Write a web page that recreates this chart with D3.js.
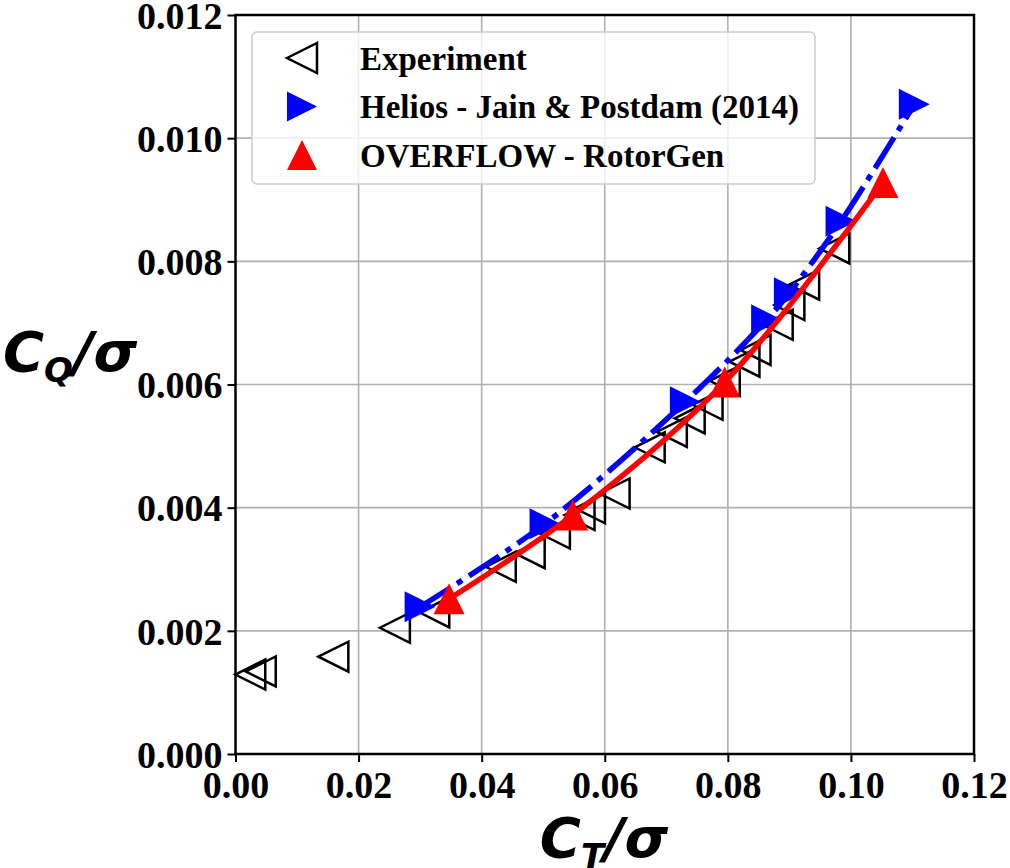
<!DOCTYPE html>
<html>
<head>
<meta charset="utf-8">
<script src="https://cdn.jsdelivr.net/npm/d3@7"></script>
<style>
  body { margin: 0; background: #fff; }
  svg { display: block; }
</style>
</head>
<body>
<svg width="1010" height="868"></svg>
<script>
// values
const expCT = [0.0024, 0.0041, 0.0159, 0.0259, 0.0323, 0.0431, 0.0478, 0.0519, 0.0559, 0.0576,
  0.0616, 0.0673, 0.0709, 0.0738, 0.0767, 0.0795, 0.0827, 0.0845, 0.0881, 0.0900, 0.0924, 0.0973]
const expCQ = [0.00129, 0.00134, 0.00158, 0.00205, 0.00230, 0.00304, 0.00326, 0.00358, 0.00388, 0.00399,
  0.00423, 0.00498, 0.00523, 0.00545, 0.00567, 0.00606, 0.00637, 0.00656, 0.00697, 0.00729, 0.00762, 0.00821]

const heliosCT = [0.0300, 0.0503, 0.0731, 0.0863, 0.0900, 0.0984, 0.1103]
const heliosCQ = [0.00239, 0.00374, 0.00572, 0.00705, 0.00749, 0.00865, 0.01055]

const overflowCT = [0.0347, 0.0548, 0.0795, 0.1052]
const overflowCQ = [0.00252, 0.00388, 0.00604, 0.00928]

const xTicks = [0, 0.02, 0.04, 0.06, 0.08, 0.10, 0.12]
const yTicks = [0, 0.002, 0.004, 0.006, 0.008, 0.010, 0.012]

const legendLabels = ['Experiment', 'Helios - Jain & Postdam (2014)', 'OVERFLOW - RotorGen']

const margin = {top: 15, left: 235.5, right: 36, bottom: 114}
const svg = d3.select('svg')
const width = svg.attr('width') - margin.left - margin.right
const height = svg.attr('height') - margin.top - margin.bottom

const g = svg.append('g')
  .attr('transform', 'translate(' + margin.left + ',' + margin.top + ')')

const xScale = d3.scaleLinear().domain([0, 0.12]).range([0, width])
const yScale = d3.scaleLinear().domain([0, 0.012]).range([height, 0])

const tickFont = '"Liberation Serif", "Times New Roman", serif'

// grid
g.append('g').selectAll('line').data(xTicks.slice(1, -1)).enter().append('line')
  .attr('x1', d => xScale(d)).attr('x2', d => xScale(d))
  .attr('y1', 0).attr('y2', height)
  .attr('stroke', '#b0b0b0').attr('stroke-width', 1.6)
g.append('g').selectAll('line').data(yTicks.slice(1, -1)).enter().append('line')
  .attr('y1', d => yScale(d)).attr('y2', d => yScale(d))
  .attr('x1', 0).attr('x2', width)
  .attr('stroke', '#b0b0b0').attr('stroke-width', 1.6)

// axes
const xAxis = g.append('g')
  .attr('transform', 'translate(0,' + height + ')')
  .call(d3.axisBottom(xScale).tickValues(xTicks).tickFormat(d3.format('.2f')).tickSize(8).tickPadding(4))
const yAxis = g.append('g')
  .call(d3.axisLeft(yScale).tickValues(yTicks).tickFormat(d3.format('.3f')).tickSize(8).tickPadding(5))

;[xAxis, yAxis].forEach(ax => {
  ax.select('.domain').remove()
  ax.selectAll('line').attr('stroke', '#000').attr('stroke-width', 2)
  ax.selectAll('text')
    .attr('fill', '#000')
    .style('font-family', tickFont)
    .style('font-weight', 'bold')
    .style('font-size', '38px')
})
xAxis.selectAll('text').attr('dy', '0.85em')
yAxis.selectAll('text').attr('dy', '0.35em')

// frame
g.append('rect')
  .attr('width', width).attr('height', height)
  .attr('fill', 'none').attr('stroke', '#000').attr('stroke-width', 2.5)

// markers
const tri = s => 'M0,' + (-s / 2) + 'L' + (s / 2) + ',' + (s / 2) + 'L' + (-s / 2) + ',' + (s / 2) + 'Z'

const plot = g.append('g')

// experiment (open left triangles)
plot.append('g').selectAll('path')
  .data(expCT.map((d, i) => [d, expCQ[i]]))
  .enter().append('path')
  .attr('d', tri(30))
  .attr('transform', d => 'translate(' + xScale(d[0]) + ',' + yScale(d[1]) + ') rotate(-90)')
  .attr('fill', 'none').attr('stroke', '#000').attr('stroke-width', 2.5)

const lineGen = d3.line()
  .x(d => xScale(d[0])).y(d => yScale(d[1]))
  .curve(d3.curveCatmullRom)

// helios
const helios = heliosCT.map((d, i) => [d, heliosCQ[i]])
plot.append('path').datum(helios)
  .attr('d', lineGen)
  .attr('fill', 'none').attr('stroke', '#0000ff').attr('stroke-width', 5.5)
  .attr('stroke-dasharray', '36,8,6,8')
plot.append('g').selectAll('path').data(helios).enter().append('path')
  .attr('d', tri(31))
  .attr('transform', d => 'translate(' + xScale(d[0]) + ',' + yScale(d[1]) + ') rotate(90)')
  .attr('fill', '#0000ff')

// overflow
const overflow = overflowCT.map((d, i) => [d, overflowCQ[i]])
plot.append('path').datum(overflow)
  .attr('d', lineGen)
  .attr('fill', 'none').attr('stroke', '#ff0000').attr('stroke-width', 5.5)
plot.append('g').selectAll('path').data(overflow).enter().append('path')
  .attr('d', tri(31))
  .attr('transform', d => 'translate(' + xScale(d[0]) + ',' + yScale(d[1]) + ')')
  .attr('fill', '#ff0000')

// legend
const legend = svg.append('g').attr('transform', 'translate(252,32)')
legend.append('rect')
  .attr('width', 563).attr('height', 152).attr('rx', 5)
  .attr('fill', 'rgba(255,255,255,0.8)').attr('stroke', '#cccccc').attr('stroke-width', 1.5)

const legendRows = legend.selectAll('g.row').data(legendLabels).enter().append('g')
  .attr('class', 'row')
  .attr('transform', (d, i) => 'translate(0,' + (26 + i * 48.5) + ')')
legendRows.append('path')
  .attr('d', tri(30))
  .attr('transform', (d, i) => 'translate(50,0) rotate(' + [-90, 90, 0][i] + ')')
  .attr('fill', (d, i) => ['none', '#0000ff', '#ff0000'][i])
  .attr('stroke', (d, i) => i === 0 ? '#000' : 'none')
  .attr('stroke-width', 2.5)
legendRows.append('text')
  .attr('x', 108).attr('dy', '0.35em')
  .style('font-family', tickFont).style('font-weight', 'bold').style('font-size', '33px')
  .text(d => d)

// axis labels
const labelFont = '"DejaVu Sans", sans-serif'
const yLabel = svg.append('text')
  .attr('x', 3).attr('y', 371)
  .style('font-family', labelFont).style('font-weight', 'bold').style('font-style', 'italic')
  .style('font-size', '56px')
yLabel.append('tspan').text('C')
yLabel.append('tspan').attr('dy', 11).style('font-size', '34px').text('Q')
yLabel.append('tspan').attr('dy', -11).text('/σ')

const xLabel = svg.append('text')
  .attr('x', 604).attr('y', 857).attr('text-anchor', 'middle')
  .style('font-family', labelFont).style('font-weight', 'bold').style('font-style', 'italic')
  .style('font-size', '56px')
xLabel.append('tspan').text('C')
xLabel.append('tspan').attr('dy', 11).style('font-size', '34px').text('T')
xLabel.append('tspan').attr('dy', -11).text('/σ')
</script>
</body>
</html>
